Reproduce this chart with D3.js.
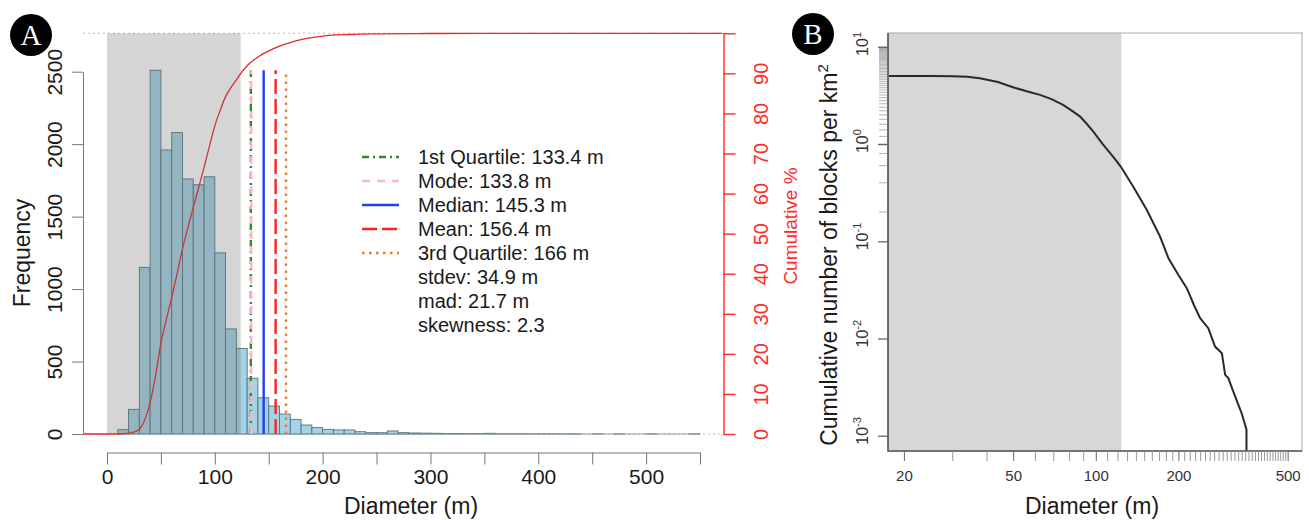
<!DOCTYPE html>
<html>
<head>
<meta charset="utf-8">
<script src="https://cdn.jsdelivr.net/npm/d3@7"></script>
<style>
    body { margin: 0; background: #fff; }
    svg { display: block; font-family: "Liberation Sans", Arial, sans-serif; }
</style>
</head>
<body>
<div id="chart"></div>
<script>

// ---- panel A: histogram of block diameters (10 m bins, lower edge) ----
var binStart = [10, 20, 30, 40, 50, 60, 70, 80, 90, 100, 110, 120, 130, 140, 150, 160, 170, 180, 190,
    200, 210, 220, 230, 240, 250, 260, 270, 280, 290, 300, 310, 320, 330, 340, 350, 360, 370, 380, 390,
    400, 410, 420, 430, 440, 450, 460, 470, 480, 490, 500, 510, 520, 530, 540];
var binCount = [30, 170, 1150, 2510, 1960, 2080, 1760, 1720, 1775, 1250, 725, 590, 385, 250, 193, 138, 101, 62, 44,
    32, 28, 28, 16, 9, 9, 21, 9, 7, 6, 5, 4, 4, 3, 3, 5, 2, 2, 2, 1,
    1, 1, 1, 1, 0, 1, 0, 1, 0, 0, 1, 0, 0, 0, 1];

// cumulative % curve
var cumDiam = [-22, 0, 10, 15, 20, 25, 30, 35, 40, 45, 50, 55, 60, 65, 70, 75, 80, 85, 90, 95, 100,
    105, 110, 115, 120, 125, 130, 140, 150, 160, 170, 180, 190, 200, 225, 250, 300, 350, 571];
var cumPct = [0, 0, 0, 0.1, 0.2, 0.5, 1.2, 3.5, 7.9, 14.5, 22.6, 28.5, 34, 40, 46.2, 51.5, 56.5, 61.5, 66.5, 71.8, 76.9,
    80.8, 84.2, 86.5, 88.4, 90.3, 91.9, 94.1, 95.6, 96.8, 97.7, 98.4, 98.9, 99.3, 99.7, 99.85, 99.95, 100, 100];

var statName = ["1st Quartile", "Mode", "Median", "Mean", "3rd Quartile"];
var statValue = [133.4, 133.8, 145.3, 156.4, 166];
var extraText = ["stdev: 34.9 m", "mad: 21.7 m", "skewness: 2.3"];
var grayLimit = 124;

var freqTicks = [0, 500, 1000, 1500, 2000, 2500];
var diamTicks = [0, 50, 100, 150, 200, 250, 300, 350, 400, 450, 500, 550];
var pctTicks = [0, 10, 20, 30, 40, 50, 60, 70, 80, 90, 100];

// ---- panel B: cumulative size-frequency (log-log) ----
var sfdDiam = [17.6, 25, 30, 34, 37.8, 44, 49.9, 56, 62.6, 69, 76, 82, 87.7, 93, 97.8, 106, 115.6, 123.3,
    136.8, 153.5, 171.4, 184, 200, 214.6, 228, 240, 257, 272, 288, 296, 304, 317, 340, 350, 354, 354];
var sfdDens = [5.03, 5.02, 5.0, 4.93, 4.76, 4.35, 3.85, 3.5, 3.21, 2.9, 2.53, 2.2, 1.92, 1.6, 1.35, 1.0, 0.743, 0.587,
    0.366, 0.21, 0.112, 0.067, 0.0451, 0.033, 0.022, 0.0162, 0.01277, 0.00826, 0.00706, 0.00423, 0.00391, 0.00284,
    0.0017, 0.00129, 0.00116, 0.0006];
var logExp = [-3, -2, -1, 0, 1];
var diamLabelsB = [20, 50, 100, 200, 500];

// line styles for the stats
var statStyle = {
    "1st Quartile": {color: "#2e8b2e", dash: "7,4,2,4"},
    "Mode": {color: "#f7b8c6", dash: "8,7"},
    "Median": {color: "#2040ee", dash: null},
    "Mean": {color: "#ff2222", dash: "15,5"},
    "3rd Quartile": {color: "#ee7a2a", dash: "2.5,4.5"}
};

var W = 1309, H = 520;
var svg = d3.select("#chart").append("svg")
    .attr("width", W)
    .attr("height", H);

//------------------------------------------------ panel A
var xA = d3.scaleLinear().domain([0, 550]).range([107, 700]);
var yA = d3.scaleLinear().domain([0, 2500]).range([434, 71.7]);
var yC = d3.scaleLinear().domain([0, 100]).range([434, 33.3]);

var gA = svg.append("g");

// dotted reference lines at 0 and 100 %
[0, 100].forEach(function (p) {
    gA.append("line")
        .attr("x1", 83).attr("x2", 723.5)
        .attr("y1", yC(p)).attr("y2", yC(p))
        .attr("stroke", "#bbb")
        .attr("stroke-dasharray", "2,3");
});

// bars
gA.selectAll("rect.bar")
    .data(binStart)
    .enter()
    .append("rect")
    .attr("class", "bar")
    .attr("x", function (d) { return xA(d); })
    .attr("width", function (d) { return xA(d + 10) - xA(d); })
    .attr("y", function (d, i) { return yA(binCount[i]); })
    .attr("height", function (d, i) { return yA(0) - yA(binCount[i]); })
    .attr("fill", "#a5d2e4")
    .attr("stroke", "#56737e")
    .attr("stroke-width", 0.9);

gA.append("line")
    .attr("x1", xA(binStart[0])).attr("x2", xA(binStart[binStart.length - 1] + 10))
    .attr("y1", yA(0)).attr("y2", yA(0))
    .attr("stroke", "#8a9ea6");

// cumulative curve
var cumLine = d3.line()
    .x(function (d, i) { return xA(cumDiam[i]); })
    .y(function (d) { return yC(d); })
    .curve(d3.curveMonotoneX);

gA.append("path")
    .datum(cumPct)
    .attr("d", cumLine)
    .attr("fill", "none")
    .attr("stroke", "#ee2424")
    .attr("stroke-width", 1.3);

// grey overlay for the range below the resolution limit
gA.append("rect")
    .attr("x", xA(0))
    .attr("width", xA(grayLimit) - xA(0))
    .attr("y", yC(100))
    .attr("height", yC(0) - yC(100))
    .attr("fill", "rgba(105,105,105,0.28)");

// stat lines
statName.forEach(function (s, i) {
    gA.append("line")
        .attr("x1", xA(statValue[i])).attr("x2", xA(statValue[i]))
        .attr("y1", yA(0)).attr("y2", yA(2510))
        .attr("stroke", statStyle[s].color)
        .attr("stroke-width", 2.4)
        .attr("stroke-dasharray", statStyle[s].dash);
});

// left axis
var axL = gA.append("g")
    .attr("transform", "translate(83,0)")
    .call(d3.axisLeft(yA).tickValues(freqTicks).tickSize(11).tickSizeOuter(0).tickFormat(d3.format("d")));
axL.select(".domain").attr("stroke", "#777");
axL.selectAll(".tick line").attr("stroke", "#777");
axL.selectAll(".tick text")
    .attr("transform", "rotate(-90)")
    .attr("x", 0).attr("y", -21).attr("dy", 0)
    .attr("text-anchor", "middle")
    .attr("fill", "#1a1a1a")
    .style("font-size", "21px");

// bottom axis
var axB = gA.append("g")
    .attr("transform", "translate(0,452.5)")
    .call(d3.axisBottom(xA).tickValues(diamTicks).tickSize(12).tickSizeOuter(0).tickPadding(5)
        .tickFormat(function (d) { return d % 100 === 0 ? d : ""; }));
axB.select(".domain").attr("stroke", "#777");
axB.selectAll(".tick line").attr("stroke", "#777");
axB.selectAll(".tick text").attr("fill", "#1a1a1a").style("font-size", "21px");

// right axis (cumulative %)
var axR = gA.append("g")
    .attr("transform", "translate(723.5,0)")
    .call(d3.axisRight(yC).tickValues(pctTicks).tickSize(12).tickSizeOuter(0)
        .tickFormat(function (d) { return d < 100 ? d : ""; }));
axR.select(".domain").attr("stroke", "#ff2a2a").attr("stroke-width", 1.4);
axR.selectAll(".tick line").attr("stroke", "#ff2a2a").attr("stroke-width", 1.4);
axR.selectAll(".tick text")
    .attr("transform", "rotate(-90)")
    .attr("x", 0).attr("y", 44.5).attr("dy", 0)
    .attr("text-anchor", "middle")
    .attr("fill", "#ff2a2a")
    .style("font-size", "20px");

gA.append("text")
    .attr("transform", "translate(797,226) rotate(-90)")
    .attr("text-anchor", "middle")
    .attr("fill", "#ff2a2a")
    .style("font-size", "19px")
    .text("Cumulative %");

gA.append("text")
    .attr("transform", "translate(30,253) rotate(-90)")
    .attr("text-anchor", "middle")
    .attr("fill", "#1a1a1a")
    .style("font-size", "23px")
    .text("Frequency");

gA.append("text")
    .attr("x", 411).attr("y", 514)
    .attr("text-anchor", "middle")
    .attr("fill", "#1a1a1a")
    .style("font-size", "23px")
    .text("Diameter (m)");

// legend
var legY = 157, legStep = 24;
statName.forEach(function (s, i) {
    var y = legY + i * legStep;
    gA.append("line")
        .attr("x1", 362).attr("x2", 399)
        .attr("y1", y).attr("y2", y)
        .attr("stroke", statStyle[s].color)
        .attr("stroke-width", 2.4)
        .attr("stroke-dasharray", statStyle[s].dash);
    gA.append("text")
        .attr("x", 418).attr("y", y + 7)
        .attr("fill", "#1a1a1a")
        .style("font-size", "20px")
        .text(s + ": " + statValue[i] + " m");
});
extraText.forEach(function (t, i) {
    gA.append("text")
        .attr("x", 418).attr("y", legY + (statName.length + i) * legStep + 7)
        .attr("fill", "#1a1a1a")
        .style("font-size", "20px")
        .text(t);
});

//------------------------------------------------ panel B
var xB = d3.scaleLog().domain([17.5, 564]).range([888, 1302]);
var yB = d3.scaleLog().domain([0.000696, 13.9]).range([451, 33]);

var gB = svg.append("g");

gB.append("rect")
    .attr("x", 888).attr("y", 33)
    .attr("width", xB(grayLimit) - 888)
    .attr("height", 418)
    .attr("fill", "#d7d7d7");

gB.append("clipPath").attr("id", "clipB")
    .append("rect").attr("x", 888).attr("y", 33).attr("width", 414).attr("height", 418);

var sfdLine = d3.line()
    .x(function (d, i) { return xB(sfdDiam[i]); })
    .y(function (d) { return yB(d); });

gB.append("path")
    .datum(sfdDens)
    .attr("d", sfdLine)
    .attr("clip-path", "url(#clipB)")
    .attr("fill", "none")
    .attr("stroke", "#2a2a2a")
    .attr("stroke-width", 2);

// box
gB.append("rect")
    .attr("x", 888).attr("y", 33).attr("width", 414).attr("height", 418)
    .attr("fill", "none").attr("stroke", "#aaa");
gB.append("path")
    .attr("d", "M888,33V451H1302")
    .attr("fill", "none").attr("stroke", "#555").attr("stroke-width", 1.6);

// rug along the y axis
gB.selectAll("line.rug")
    .data(d3.range(0.2, 10.01, 0.2))
    .enter()
    .append("line")
    .attr("class", "rug")
    .attr("x1", 879).attr("x2", 888)
    .attr("y1", function (d) { return yB(d); })
    .attr("y2", function (d) { return yB(d); })
    .attr("stroke", "#777")
    .attr("stroke-opacity", 0.55);

// y ticks
var axBL = gB.append("g")
    .attr("transform", "translate(888,0)")
    .call(d3.axisLeft(yB).tickValues(logExp.map(function (e) { return Math.pow(10, e); }))
        .tickSize(10).tickSizeOuter(0).tickFormat(""));
axBL.select(".domain").remove();
axBL.selectAll(".tick line").attr("stroke", "#666").attr("stroke-width", 1.3);

gB.selectAll("text.ylab")
    .data(logExp)
    .enter()
    .append("text")
    .attr("class", "ylab")
    .attr("transform", function (d) { return "translate(868," + yB(Math.pow(10, d)) + ") rotate(-90)"; })
    .attr("x", -9)
    .attr("fill", "#333")
    .style("font-size", "16px")
    .each(function (d) {
        var t = d3.select(this);
        t.append("tspan").text("10");
        t.append("tspan").attr("dy", "-0.6em").style("font-size", "11px").text(d);
    });

// x ticks
var axBB = gB.append("g")
    .attr("transform", "translate(0,451)")
    .call(d3.axisBottom(xB).tickValues(d3.range(20, 501, 10)).tickSize(10).tickSizeOuter(0).tickPadding(9)
        .tickFormat(function (d) { return diamLabelsB.indexOf(d) >= 0 ? d : ""; }));
axBB.select(".domain").remove();
axBB.selectAll(".tick line")
    .attr("stroke", function (d) { return diamLabelsB.indexOf(d) >= 0 ? "#666" : "#999"; });
axBB.selectAll(".tick text").attr("fill", "#333").style("font-size", "15px");

var yTitle = gB.append("text")
    .attr("transform", "translate(837,255) rotate(-90)")
    .attr("text-anchor", "middle")
    .attr("fill", "#1a1a1a")
    .style("font-size", "23px");
yTitle.append("tspan").text("Cumulative number of blocks per km");
yTitle.append("tspan").attr("dy", "-0.6em").style("font-size", "15px").text("2");

gB.append("text")
    .attr("x", 1092).attr("y", 514)
    .attr("text-anchor", "middle")
    .attr("fill", "#1a1a1a")
    .style("font-size", "23px")
    .text("Diameter (m)");

// panel letters
[["A", 31, 35], ["B", 813, 34]].forEach(function (p) {
    svg.append("circle").attr("cx", p[1]).attr("cy", p[2]).attr("r", 21).attr("fill", "#000");
    svg.append("text")
        .attr("x", p[1]).attr("y", p[2] + 10)
        .attr("text-anchor", "middle")
        .attr("fill", "#fff")
        .style("font-family", "'Liberation Serif', 'Times New Roman', serif")
        .style("font-size", "29px")
        .text(p[0]);
});

</script>
</body>
</html>
